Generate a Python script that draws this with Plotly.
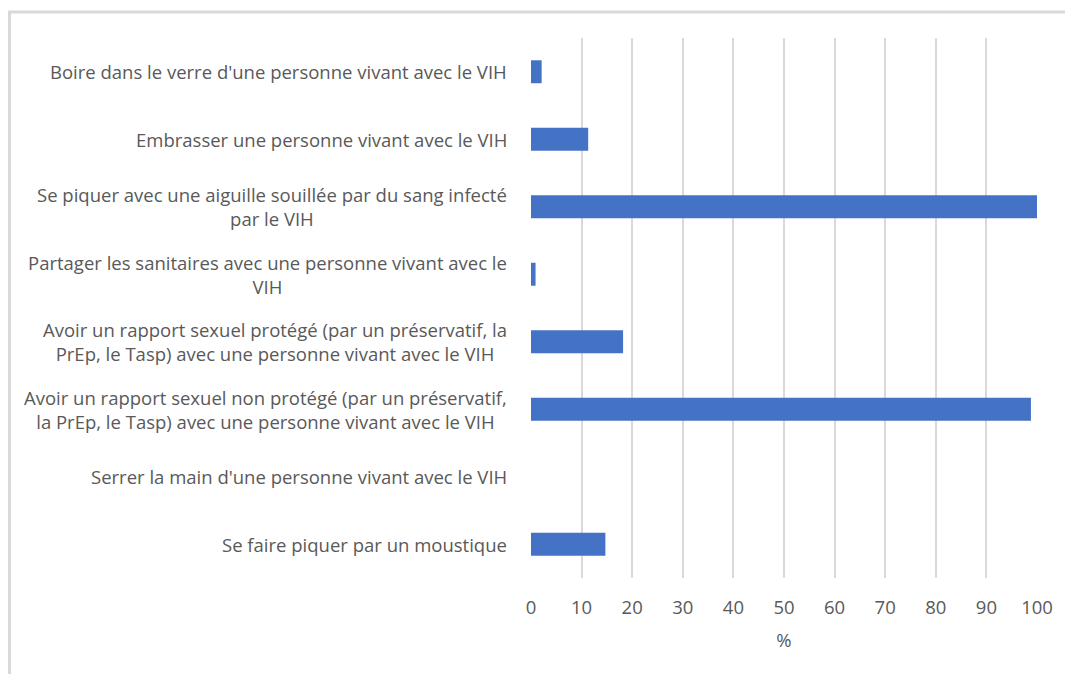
import plotly.graph_objects as go

categories = [
    "Boire dans le verre d'une personne vivant avec le VIH",
    "Embrasser une personne vivant avec le VIH",
    "Se piquer avec une aiguille souillée par du sang infecté<br>par le VIH",
    "Partager les sanitaires avec une personne vivant avec le<br>VIH",
    "Avoir un rapport sexuel protégé (par un préservatif, la<br>PrEp, le Tasp) avec une personne vivant avec le VIH",
    "Avoir un rapport sexuel non protégé (par un préservatif,<br>la PrEp, le Tasp) avec une personne vivant avec le VIH",
    "Serrer la main d'une personne vivant avec le VIH",
    "Se faire piquer par un moustique",
]
values = [2.1, 11.3, 100, 0.9, 18.2, 98.8, 0, 14.7]
x_ticks = list(range(0, 101, 10))

FONT = "Open Sans"
TXT = "#595959"
FS = 18.5

fig = go.Figure()
fig.add_trace(go.Bar(
    y=list(range(len(categories))), x=values, orientation="h",
    marker=dict(color="#4472C4", line=dict(width=0)),
    width=0.34, hoverinfo="skip",
))

for i, c in enumerate(categories):
    fig.add_annotation(
        x=0, xref="paper", y=i, yref="y", text=c, showarrow=False,
        xanchor="right", yanchor="middle", align="center", xshift=-22,
        font=dict(family=FONT, size=FS, color=TXT),
    )

fig.add_shape(type="rect", xref="paper", yref="paper",
              x0=-1.0306, x1=1.12, y0=-0.3, y1=1.048,
              line=dict(color="#d9d9d9", width=3), fillcolor="rgba(0,0,0,0)", layer="below")

fig.update_layout(
    width=1065, height=674,
    margin=dict(l=531, r=28, t=38, b=96),
    paper_bgcolor="white", plot_bgcolor="white",
    showlegend=False,
    font=dict(family=FONT, size=FS, color=TXT),
    xaxis=dict(range=[0, 100], tickvals=x_ticks, showgrid=True, gridcolor="#d9d9d9",
               gridwidth=1.5, zeroline=False, showline=False, ticks="",
               ticklabelstandoff=16,
               tickfont=dict(family=FONT, size=FS, color=TXT),
               title=dict(text="%", font=dict(family=FONT, size=FS, color=TXT), standoff=16)),
    yaxis=dict(range=[len(categories) - 0.5, -0.5], showticklabels=False, showgrid=False,
               zeroline=False, showline=False, ticks=""),
)

fig.write_html("out.html")
